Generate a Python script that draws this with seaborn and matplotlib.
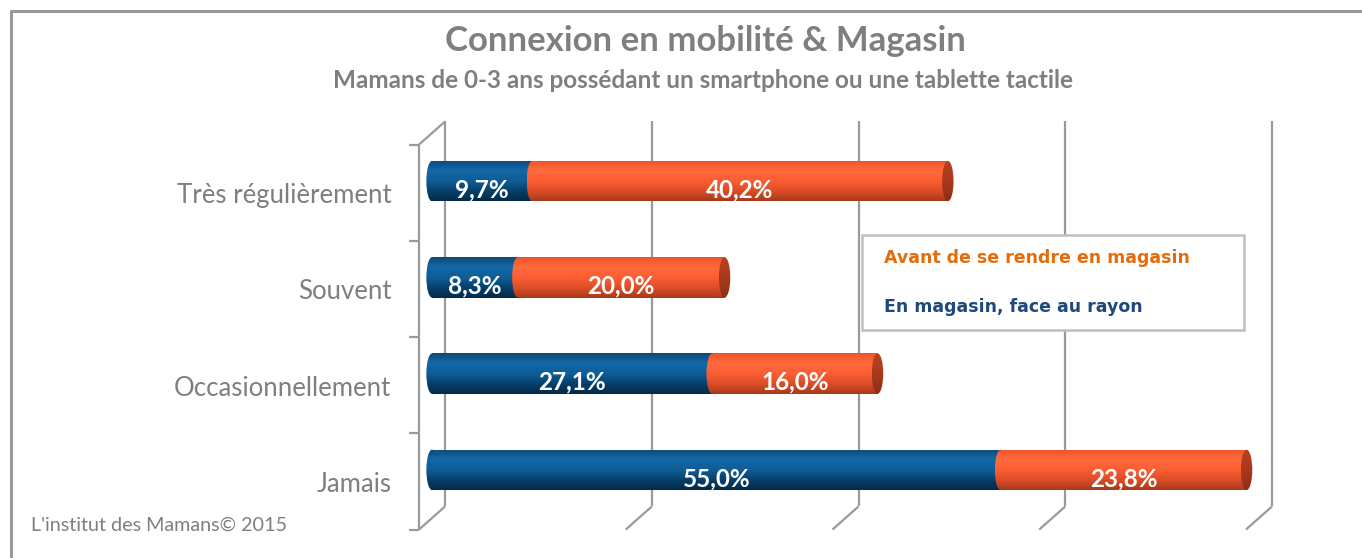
import numpy as np
import pandas as pd
import seaborn as sns
import matplotlib.pyplot as plt
from matplotlib.patches import Ellipse
from matplotlib.lines import Line2D
from matplotlib.colors import LinearSegmentedColormap

# -----------------------------
# Data
# -----------------------------
categories = ["Très régulièrement", "Souvent", "Occasionnellement", "Jamais"]
en_magasin = [9.7, 8.3, 27.1, 55.0]      # blue, "En magasin, face au rayon"
avant = [40.2, 20.0, 16.0, 23.8]         # orange, "Avant de se rendre en magasin"
grid_ticks = [0, 20, 40, 60, 80]

df = pd.DataFrame({"cat": categories, "blue": en_magasin, "orange": avant})
df["total"] = df["blue"] + df["orange"]

# -----------------------------
# Style
# -----------------------------
sns.set_style("white")
plt.rcParams["font.family"] = ["Lato", "DejaVu Sans"]

GREY = "#7f7f7f"
GRID = "#9a9a9a"
BLUE_GRAD = ["#0a4a7a", "#1368a6", "#0e5e97", "#07406b", "#032a47"]
ORANGE_GRAD = ["#ee532a", "#ff6a3d", "#fc5e33", "#dc4d27", "#a73a1b"]
CAP_GRAD = ["#b8421f", "#a9391c", "#8e2f16"]
BAR_W = 0.42
CAP_W = 1.1
DX, DY = 1.26, 0.12   # fake 3D depth, data units

fig = plt.figure(figsize=(13.62, 5.58), dpi=100)
ax = fig.add_axes([421.7 / 1362, 40 / 558, 837.3 / 1362, 385 / 558])

# outer frame (left + top)
fig.add_artist(Line2D([11 / 1362, 11 / 1362], [0, 1 - 11 / 558], color="#999999", lw=2.2,
                      transform=fig.transFigure))
fig.add_artist(Line2D([11 / 1362, 1], [1 - 11 / 558, 1 - 11 / 558], color="#999999", lw=2.2,
                      transform=fig.transFigure))

# -----------------------------
# Bars
# -----------------------------
sns.barplot(data=df, x="total", y="cat", color=ORANGE_GRAD[2], width=BAR_W,
            orient="h", ax=ax, zorder=3)
sns.barplot(data=df, x="blue", y="cat", color=BLUE_GRAD[2], width=BAR_W,
            orient="h", ax=ax, zorder=4)
ax.set_autoscale_on(False)


def fill_gradient(patch, colors, z):
    cmap = LinearSegmentedColormap.from_list("g", colors)
    grad = np.linspace(0, 1, 256).reshape(-1, 1)
    if isinstance(patch, Ellipse):
        cx, cy = patch.center
        x0, x1 = cx - patch.width / 2, cx + patch.width / 2
        y0, y1 = cy - patch.height / 2, cy + patch.height / 2
    else:
        x0, x1 = patch.get_x(), patch.get_x() + patch.get_width()
        y0, y1 = patch.get_y(), patch.get_y() + patch.get_height()
    patch.set_facecolor("none")
    patch.set_edgecolor("none")
    im = ax.imshow(grad, cmap=cmap, extent=(x0, x1, y1, y0), aspect="auto",
                   origin="upper", zorder=z, interpolation="bilinear")
    im.set_clip_path(patch)


n = len(categories)
orange_bars = ax.patches[:n]
blue_bars = ax.patches[n:2 * n]

for i, (p_o, p_b) in enumerate(zip(orange_bars, blue_bars)):
    fill_gradient(p_o, ORANGE_GRAD, 3)
    fill_gradient(p_b, BLUE_GRAD, 4)
    # left round end of blue cylinder
    e_left = Ellipse((0, i), CAP_W, BAR_W, transform=ax.transData)
    ax.add_patch(e_left)
    fill_gradient(e_left, BLUE_GRAD, 2)
    # left end of orange cylinder over blue
    e_mid = Ellipse((df["blue"][i], i), CAP_W, BAR_W, transform=ax.transData)
    ax.add_patch(e_mid)
    fill_gradient(e_mid, ORANGE_GRAD, 5)
    # right face of the cylinder
    e_right = Ellipse((df["total"][i], i), CAP_W, BAR_W, transform=ax.transData)
    ax.add_patch(e_right)
    fill_gradient(e_right, CAP_GRAD, 6)

    # value labels
    ax.text(df["blue"][i] / 2, i + 0.09, f"{df['blue'][i]:.1f}%".replace(".", ","),
            ha="center", va="center", color="white", fontsize=17.5, fontweight="bold", zorder=7)
    ax.text(df["blue"][i] + df["orange"][i] / 2, i + 0.09,
            f"{df['orange'][i]:.1f}%".replace(".", ","),
            ha="center", va="center", color="white", fontsize=17.5, fontweight="bold", zorder=7)

# -----------------------------
# Perspective grid / walls
# -----------------------------
top, bottom = -0.5, n - 0.5
kw = dict(color=GRID, lw=1.6, clip_on=False, zorder=1, solid_capstyle="butt")
for g in grid_ticks:
    ax.plot([g + DX, g + DX], [top - DY, bottom - DY], **kw)
    ax.plot([g + DX, g - DX], [bottom - DY, bottom + DY], **kw)
# left side wall
ax.plot([-DX, -DX], [top + DY, bottom + DY], **kw)
ax.plot([-DX, DX], [top + DY, top - DY], **kw)
for b in np.arange(top, bottom + 1):
    ax.plot([-DX - 0.97, -DX], [b + DY, b + DY], **kw)

ax.set_xlim(-1, 80)
ax.set_ylim(bottom, top)
sns.despine(ax=ax, left=True, bottom=True)
ax.set_xticks([])
ax.set_yticks([])
ax.set_xlabel("")
ax.set_ylabel("")

# category labels (aligned with front of the box)
for i, c in enumerate(categories):
    ax.text(-3.95, i + 0.15, c, ha="right", va="center", color=GREY,
            fontsize=18.5, clip_on=False)

# -----------------------------
# Legend
# -----------------------------
handles = [Line2D([], [], linestyle="none"), Line2D([], [], linestyle="none")]
leg = ax.legend(handles, ["Avant de se rendre en magasin", "En magasin, face au rayon"],
                loc="upper left", bbox_to_anchor=(862 / 1362, 1 - 235 / 558, 382 / 1362, 0),
                bbox_transform=fig.transFigure, mode="expand", borderaxespad=0,
                handlelength=0, handletextpad=0.45, labelspacing=1.8, borderpad=0.8,
                fancybox=False, framealpha=1, edgecolor="#bfbfbf",
                labelcolor=["#e46c0a", "#1f497d"],
                prop={"family": "DejaVu Sans", "weight": "bold", "size": 12.5})
leg.get_frame().set_linewidth(1.8)
leg.set_zorder(10)

# -----------------------------
# Titles / footnote
# -----------------------------
fig.text(705 / 1362, 1 - 41 / 558, "Connexion en mobilité & Magasin", ha="center", va="center",
         color=GREY, fontsize=25, fontweight="bold")
fig.text(703 / 1362, 1 - 80 / 558, "Mamans de 0-3 ans possédant un smartphone ou une tablette tactile",
         ha="center", va="center", color=GREY, fontsize=17.5, fontweight="bold")
fig.text(31 / 1362, 1 - 525 / 558, "L'institut des Mamans© 2015", ha="left", va="center",
         color=GREY, fontsize=14.2)

fig.savefig("out.png", dpi=100)
